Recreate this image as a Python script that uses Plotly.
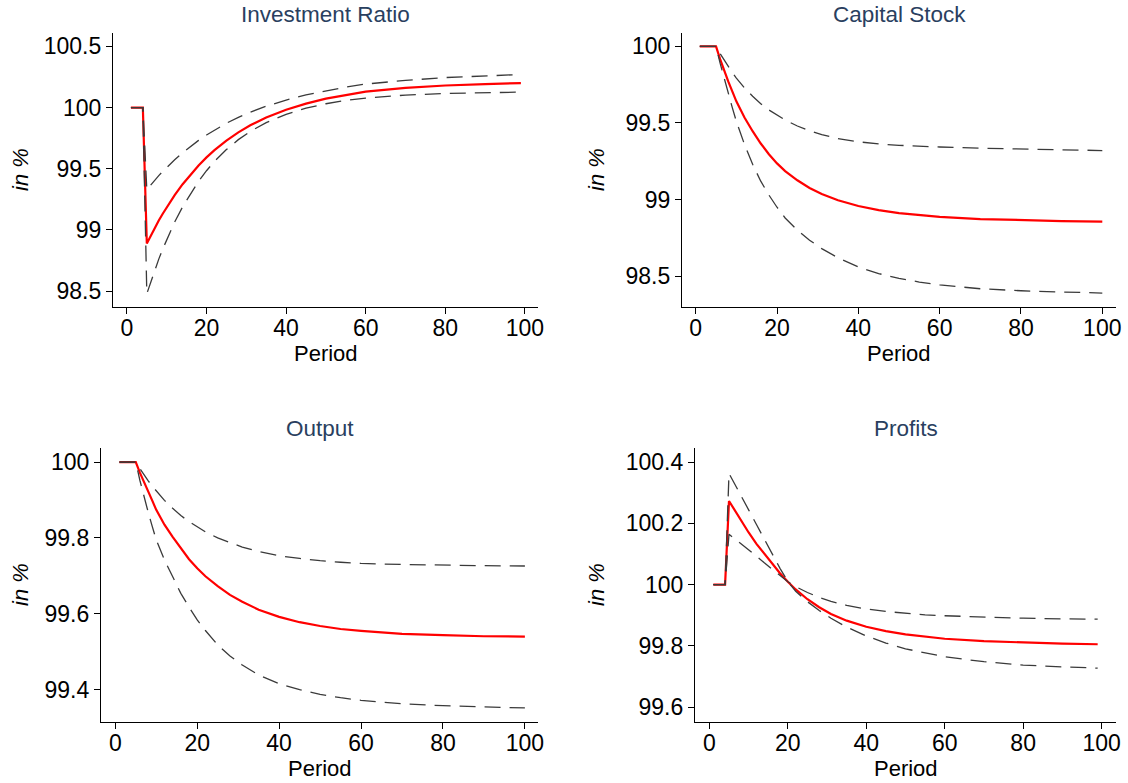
import plotly.graph_objects as go

# ---------------- data ----------------
periods_a = [1, 2, 3, 4, 5, 6, 7, 8, 9, 10, 12, 14, 16, 18, 20, 22, 25, 28, 31, 35, 40, 45, 50, 55, 60, 70, 80, 90, 99]
periods_b = [1, 2, 3, 4, 5, 6, 7, 8, 9, 10, 12, 14, 16, 18, 20, 22, 25, 28, 31, 35, 40, 45, 50, 55, 60, 70, 80, 90, 100]

inv_mid = [100, 100, 100, 100, 98.89, 98.956, 99.018, 99.077, 99.133, 99.186, 99.285, 99.374, 99.455, 99.527,
           99.593, 99.652, 99.73, 99.797, 99.855, 99.919, 99.982, 100.032, 100.073, 100.104, 100.13, 100.16,
           100.18, 100.192, 100.2]
inv_up = [100, 100, 100, 100, 99.33, 99.37, 99.407, 99.444, 99.478, 99.512, 99.574, 99.631, 99.684, 99.732,
          99.776, 99.817, 99.872, 99.92, 99.962, 100.011, 100.061, 100.103, 100.138, 100.167, 100.192, 100.222,
          100.245, 100.26, 100.27]
inv_lo = [100, 100, 100, 100, 98.48, 98.58, 98.674, 98.762, 98.845, 98.923, 99.065, 99.19, 99.30, 99.398,
          99.484, 99.56, 99.657, 99.738, 99.805, 99.877, 99.945, 99.995, 100.031, 100.058, 100.077, 100.102,
          100.115, 100.122, 100.126]

cap_mid = [100, 100, 100, 100, 100, 99.916, 99.841, 99.771, 99.706, 99.641, 99.536, 99.446, 99.366, 99.296,
           99.236, 99.186, 99.126, 99.076, 99.036, 98.996, 98.958, 98.931, 98.911, 98.897, 98.887, 98.873,
           98.865, 98.86, 98.856]
cap_up = [100, 100, 100, 100, 100, 99.952, 99.908, 99.867, 99.829, 99.793, 99.729, 99.674, 99.626, 99.585,
          99.55, 99.519, 99.48, 99.449, 99.424, 99.398, 99.377, 99.363, 99.354, 99.348, 99.343, 99.335,
          99.33, 99.325, 99.32]
cap_lo = [100, 100, 100, 100, 100, 99.89, 99.79, 99.69, 99.60, 99.51, 99.36, 99.23, 99.12, 99.03,
          98.95, 98.88, 98.80, 98.735, 98.68, 98.62, 98.56, 98.517, 98.486, 98.462, 98.443, 98.418,
          98.405, 98.397, 98.39]

out_mid = [100, 100, 100, 100, 100, 99.972, 99.946, 99.922, 99.899, 99.874, 99.835, 99.803, 99.772, 99.744,
           99.72, 99.699, 99.673, 99.65, 99.632, 99.611, 99.592, 99.578, 99.568, 99.56, 99.555, 99.547,
           99.544, 99.541, 99.54]
out_up = [100, 100, 100, 100, 100, 99.983, 99.966, 99.951, 99.937, 99.924, 99.899, 99.878, 99.859, 99.843,
          99.829, 99.816, 99.80, 99.787, 99.776, 99.764, 99.753, 99.746, 99.74, 99.736, 99.733, 99.73,
          99.728, 99.727, 99.726]
out_lo = [100, 100, 100, 100, 100, 99.952, 99.908, 99.869, 99.831, 99.795, 99.742, 99.696, 99.654, 99.618,
          99.584, 99.556, 99.518, 99.489, 99.465, 99.439, 99.416, 99.4, 99.388, 99.379, 99.372, 99.363,
          99.358, 99.355, 99.352]

prof_mid = [100, 100, 100, 100, 100.273, 100.252, 100.231, 100.21, 100.19, 100.17, 100.133, 100.10, 100.067,
            100.037, 100.009, 99.984, 99.952, 99.926, 99.904, 99.882, 99.862, 99.848, 99.837, 99.829, 99.823,
            99.815, 99.81, 99.807, 99.805]
prof_a = [100, 100, 100, 100, 100.363, 100.34, 100.316, 100.292, 100.268, 100.244, 100.196, 100.148, 100.10,
          100.053, 100.01, 99.978, 99.944, 99.915, 99.89, 99.861, 99.832, 99.809, 99.79, 99.776, 99.764,
          99.748, 99.737, 99.731, 99.727]
prof_b = [100, 100, 100, 100, 100.164, 100.154, 100.144, 100.134, 100.125, 100.115, 100.093, 100.071, 100.05,
          100.029, 100.009, 99.993, 99.974, 99.958, 99.945, 99.932, 99.92, 99.912, 99.906, 99.901, 99.898,
          99.893, 99.89, 99.888, 99.887]

titles = ["Investment Ratio", "Capital Stock", "Output", "Profits"]
x_ticks = [0, 20, 40, 60, 80, 100]
x_tick_text = ["0", "20", "40", "60", "80", "100"]
y_ticks = [[98.5, 99, 99.5, 100, 100.5], [98.5, 99, 99.5, 100], [99.4, 99.6, 99.8, 100], [99.6, 99.8, 100, 100.2, 100.4]]
y_tick_text = [["98.5", "99", "99.5", "100", "100.5"], ["98.5", "99", "99.5", "100"],
               ["99.4", "99.6", "99.8", "100"], ["99.6", "99.8", "100", "100.2", "100.4"]]
x_label = "Period"
y_label = "in %"

series = [
    (periods_a, inv_mid, inv_up, inv_lo),
    (periods_b, cap_mid, cap_up, cap_lo),
    (periods_b, out_mid, out_up, out_lo),
    (periods_a, prof_mid, prof_a, prof_b),
]

# ---------------- layout geometry (pixels) ----------------
W, H = 1128, 783
boxes = [  # left, right, top, bottom
    (113, 538, 33, 307),
    (682, 1116, 33, 307),
    (101, 538, 448, 722),
    (695, 1116, 448, 722),
]
x_ranges = [[-3.5, 103.3], [-3.37, 103.37], [-3.49, 103.2], [-3.67, 103.67]]
y_ranges = [[98.371, 100.609], [98.299, 100.087], [99.315, 100.037], [99.551, 100.446]]
y_title_x = [20, 596, 20, 596]

FONT = "Arial, 'Liberation Sans', sans-serif"
RED = "#ff0000"
DASH_COL = "#3a3a3a"

fig = go.Figure()
annotations = []
for k in range(4):
    n = "" if k == 0 else str(k + 1)
    xa, ya = "x" + n, "y" + n
    per, mid, up, lo = series[k]
    fig.add_trace(go.Scatter(x=per, y=mid, mode="lines", line=dict(color=RED, width=2.2),
                             xaxis=xa, yaxis=ya, showlegend=False, hoverinfo="skip"))
    for s in (up, lo):
        fig.add_trace(go.Scatter(x=per, y=s, mode="lines",
                                 line=dict(color=DASH_COL, width=1.3, dash="16px,9px"),
                                 xaxis=xa, yaxis=ya, showlegend=False, hoverinfo="skip"))
    l, r, t, b = boxes[k]
    axis_common = dict(showline=True, linecolor="black", linewidth=1.2, ticks="outside", ticklen=6,
                       tickwidth=1.2, tickcolor="black", showgrid=False, zeroline=False,
                       tickfont=dict(family=FONT, size=23, color="black"), fixedrange=True)
    fig.update_layout(**{
        "xaxis" + n: dict(domain=[l / W, r / W], anchor=ya, range=x_ranges[k],
                          tickvals=x_ticks, ticktext=x_tick_text, ticklabelstandoff=-6, **axis_common),
        "yaxis" + n: dict(domain=[1 - b / H, 1 - t / H], anchor=xa, range=y_ranges[k],
                          tickvals=y_ticks[k], ticktext=y_tick_text[k], **axis_common),
    })
    cx = (l + r) / 2 / W
    annotations.append(dict(text=titles[k], x=cx, y=1 - (t - 19) / H, xref="paper", yref="paper",
                            xanchor="center", yanchor="middle", showarrow=False,
                            font=dict(family=FONT, size=22.5, color="#2a3f5f")))
    annotations.append(dict(text=x_label, x=cx, y=1 - (b + 46) / H, xref="paper", yref="paper",
                            xanchor="center", yanchor="middle", showarrow=False,
                            font=dict(family=FONT, size=22, color="black")))
    annotations.append(dict(text="<i>" + y_label + "</i>", x=y_title_x[k] / W, y=1 - (t + b) / 2 / H,
                            xref="paper", yref="paper", xanchor="center", yanchor="middle",
                            textangle=-90, showarrow=False,
                            font=dict(family=FONT, size=22, color="black")))

fig.update_layout(width=W, height=H, margin=dict(l=0, r=0, t=0, b=0), template="none",
                  paper_bgcolor="white", plot_bgcolor="white", annotations=annotations,
                  showlegend=False)

fig.write_html("out.html", config={"displayModeBar": False})
